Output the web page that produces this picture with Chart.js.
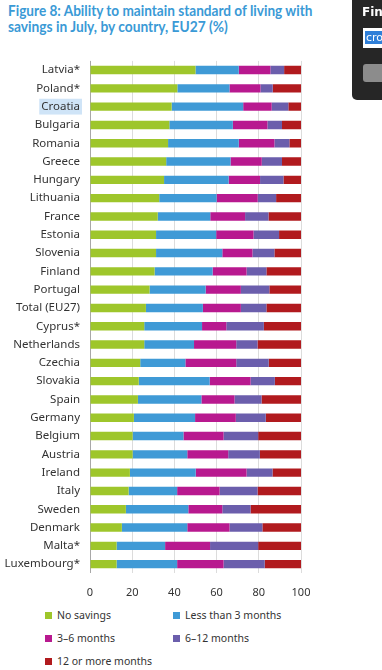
<!DOCTYPE html>
<html>
<head>
<meta charset="utf-8">
<script src="https://cdn.jsdelivr.net/npm/chart.js@4"></script>
<style>
  html, body { margin: 0; padding: 0; background: #fff; width: 382px; height: 670px; overflow: hidden; }
  .title { position: absolute; left: 8px; font-family: Lato, sans-serif; font-weight: bold; font-size: 14.5px; color: #3a9ad6; white-space: nowrap; transform-origin: 0 0; }
  #chartBox { position: absolute; left: 0; top: 44px; width: 382px; height: 564px; }
  .legend { position: absolute; font-family: "Noto Sans", sans-serif; font-size: 10.5px; color: #333; white-space: nowrap; }
  .legend span { display: inline-block; width: 7px; height: 7px; margin-right: 5px; vertical-align: 0px; }
  #findBar { position: absolute; left: 352px; top: -6px; width: 40px; height: 106px; background: #262626; border-radius: 5px; }
  #findBar .lbl { position: absolute; left: 10px; top: 11px; font-family: "DejaVu Sans", sans-serif; font-weight: bold; font-size: 12px; color: #fff; }
  #findBar .inp { position: absolute; left: 11px; top: 34px; width: 40px; height: 20px; background: #fff; }
  #findBar .inp b { position: absolute; left: 2px; top: 3px; background: #2f7fd8; color: #fff; font-family: "DejaVu Sans", sans-serif; font-weight: normal; font-size: 11px; padding: 0 1px; }
  #findBar .btn { position: absolute; left: 11px; top: 70px; width: 40px; height: 18px; background: #8c8c8c; border-radius: 3px; }
</style>
</head>
<body>
<div class="title" id="t1" style="top:2px">Figure 8: Ability to maintain standard of living with</div>
<div class="title" id="t2" style="top:18px">savings in July, by country, EU27 (%)</div>
<div id="chartBox"><canvas id="savingsChart"></canvas></div>
<div id="legendBox"></div>
<div id="findBar"><div class="lbl">Fin</div><div class="inp"><b>cro</b></div><div class="btn"></div></div>

<script>
const countries = ['Latvia*', 'Poland*', 'Croatia', 'Bulgaria', 'Romania', 'Greece', 'Hungary', 'Lithuania',
    'France', 'Estonia', 'Slovenia', 'Finland', 'Portugal', 'Total (EU27)', 'Cyprus*', 'Netherlands',
    'Czechia', 'Slovakia', 'Spain', 'Germany', 'Belgium', 'Austria', 'Ireland', 'Italy', 'Sweden',
    'Denmark', 'Malta*', 'Luxembourg*'];

const noSavings = [50, 41.4, 38.7, 37.6, 37, 36.1, 35.1, 32.8, 32.1, 31.3, 31.3, 30.6, 28.2, 26.5, 25.7, 25.7,
    23.8, 23.1, 22.7, 20.8, 20.2, 20.2, 18.9, 18.3, 17, 15.1, 12.6, 12.6];
const lessThan3 = [20.5, 24.7, 33.9, 30.1, 33.5, 30.5, 30.6, 27.2, 24.9, 28.5, 31.4, 27.5, 26.6, 27, 27.4, 23.6,
    21.4, 33.6, 30.1, 29, 24.1, 25.9, 31.2, 23, 29.6, 31, 23, 28.7];
const months3to6 = [15, 14.7, 13.5, 16.4, 16.9, 14.8, 14.9, 19.5, 16.5, 17.7, 14.3, 16.1, 16.7, 18, 11.5, 20,
    24.1, 19.4, 15.7, 19.3, 19, 19.4, 24.1, 20.1, 16.1, 20, 21.3, 22];
const months6to12 = [6.5, 5.8, 7.9, 6.9, 7.1, 9.6, 11.1, 8.7, 11.1, 12.1, 10.4, 9.4, 13.5, 12.1, 17.8, 10.1,
    15.4, 11.5, 12.8, 14.2, 16.4, 15, 12.3, 18, 13.4, 15.6, 22.8, 19.5];
const months12plus = [8, 13.4, 6, 9, 5.5, 9, 8.3, 11.8, 15.4, 10.4, 12.6, 16.4, 15, 16.4, 17.6, 20.6,
    15.3, 12.4, 18.7, 16.7, 20.3, 19.5, 13.5, 20.6, 23.9, 18.3, 20.3, 17.2];

const seriesLabels = ['No savings', 'Less than 3 months', '3\u20136 months', '6\u201312 months', '12 or more months'];
const seriesColors = ['#9ec62b', '#3f9ad6', '#b8198f', '#6b5eac', '#b11a1e'];
const xTicks = [0, 20, 40, 60, 80, 100];

// squeeze title lines to the width they take in the picture
function fitTitle(id, w) {
    const el = document.getElementById(id);
    el.style.transform = 'scaleX(' + (w / el.offsetWidth) + ')';
}
fitTitle('t1', 304);
fitTitle('t2', 220);

const allSeries = [noSavings, lessThan3, months3to6, months6to12, months12plus];

const ctx = document.getElementById('savingsChart').getContext('2d');
new Chart(ctx, {
    type: 'bar',
    data: {
        labels: countries,
        datasets: allSeries.map((values, i) => ({
            label: seriesLabels[i],
            data: values,
            backgroundColor: seriesColors[i],
            borderWidth: 0,
            barPercentage: 0.46,
            categoryPercentage: 1
        }))
    },
    options: {
        indexAxis: 'y',
        responsive: true,
        maintainAspectRatio: false,
        animation: false,
        layout: { padding: { top: 10.7, right: 81, left: 0, bottom: 0 } },
        plugins: {
            legend: { display: false },
            tooltip: { enabled: false }
        },
        scales: {
            x: {
                stacked: true,
                min: 0,
                max: 100,
                afterBuildTicks: scale => { scale.ticks = xTicks.map(v => ({ value: v })); },
                afterFit: scale => { scale.height = 34.7; },
                border: { display: false },
                grid: {
                    drawTicks: false,
                    color: c => c.index === 0 ? '#a8a8a8' : '#dcdcdc',
                    lineWidth: 1
                },
                ticks: {
                    padding: 13,
                    color: '#333',
                    font: { family: 'Noto Sans', size: 11 }
                }
            },
            y: {
                stacked: true,
                afterFit: scale => { scale.width = 90; },
                border: { display: false },
                grid: { display: false, drawTicks: false },
                ticks: {
                    padding: 10,
                    color: '#333',
                    font: { family: 'Noto Sans', size: 11.5 },
                    showLabelBackdrop: c => c.index === 2,
                    backdropColor: c => c.index === 2 ? '#cfe4f7' : 'rgba(0,0,0,0)',
                    backdropPadding: { x: 2, y: 1 }
                }
            }
        }
    }
});

// legend in two columns, like the figure
const legendPos = [[45, 608], [173, 608], [45, 631], [173, 631], [45, 654]];
const legendBox = document.getElementById('legendBox');
seriesLabels.forEach((label, i) => {
    const item = document.createElement('div');
    item.className = 'legend';
    item.style.left = legendPos[i][0] + 'px';
    item.style.top = legendPos[i][1] + 'px';
    item.innerHTML = '<span style="background:' + seriesColors[i] + '"></span>' + label;
    legendBox.appendChild(item);
});
</script>
</body>
</html>
